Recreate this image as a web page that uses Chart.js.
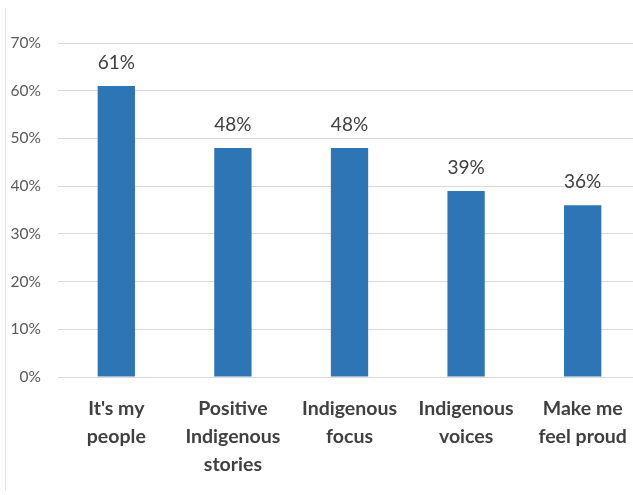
<!DOCTYPE html>
<html>
<head>
<meta charset="utf-8">
<script src="https://cdn.jsdelivr.net/npm/chart.js@4"></script>
<style>
  html, body { margin: 0; padding: 0; background: #fff; overflow: hidden; }
  #moldura { position: absolute; left: 5px; top: 8px; width: 0; height: 482px; border-left: 1px solid #e3e3e3; }
  #area { position: absolute; left: 0; top: 0; width: 641px; height: 495px; }
</style>
</head>
<body>
<div id="moldura"></div>
<div id="area"><canvas id="grafico"></canvas></div>
<script>
// Dados
const categorias = [
    ["It's my", "people"],
    ["Positive", "Indigenous", "stories"],
    ["Indigenous", "focus"],
    ["Indigenous", "voices"],
    ["Make me", "feel proud"]
];
const valores = [61, 48, 48, 39, 36];
const ticksY = [0, 10, 20, 30, 40, 50, 60, 70];

// Plugin simples para escrever o valor acima de cada barra
const rotulosBarras = {
    id: 'rotulosBarras',
    afterDatasetsDraw(chart) {
        const ctx = chart.ctx;
        const meta = chart.getDatasetMeta(0);
        ctx.save();
        ctx.font = '19px Lato, sans-serif';
        ctx.fillStyle = '#404040';
        ctx.textAlign = 'center';
        ctx.textBaseline = 'middle';
        meta.data.forEach((barra, i) => {
            ctx.fillText(valores[i] + '%', barra.x, barra.y - 23);
        });
        ctx.restore();
    }
};

const ctx = document.getElementById('grafico').getContext('2d');
new Chart(ctx, {
    type: 'bar',
    data: {
        labels: categorias,
        datasets: [{
            data: valores,
            backgroundColor: '#2e75b6',
            borderWidth: 0,
            barPercentage: 0.32,
            categoryPercentage: 1
        }]
    },
    options: {
        responsive: true,
        maintainAspectRatio: false,
        animation: false,
        layout: { padding: { top: 43, left: 0, right: 0, bottom: 0 } },
        plugins: {
            legend: { display: false },
            tooltip: { enabled: false }
        },
        scales: {
            x: {
                grid: { display: false, drawTicks: false },
                border: { display: false },
                ticks: {
                    color: '#404040',
                    font: { family: 'Lato', size: 19.5, weight: 'bold', lineHeight: 28 / 19.5 },
                    padding: 18,
                    maxRotation: 0,
                    autoSkip: false
                },
                afterFit(scale) {
                    scale.height = 118;
                    scale.paddingLeft = 0;
                    scale.paddingRight = 0;
                }
            },
            y: {
                min: 0,
                max: 70,
                afterBuildTicks(scale) {
                    scale.ticks = ticksY.map(v => ({ value: v }));
                },
                grid: { color: '#d9d9d9', lineWidth: 1, drawTicks: false },
                border: { display: false },
                ticks: {
                    color: '#595959',
                    font: { family: 'Lato', size: 15.5 },
                    padding: 17,
                    callback: v => v + '%'
                },
                afterFit(scale) { scale.width = 58; }
            }
        }
    },
    plugins: [rotulosBarras]
});
</script>
</body>
</html>
